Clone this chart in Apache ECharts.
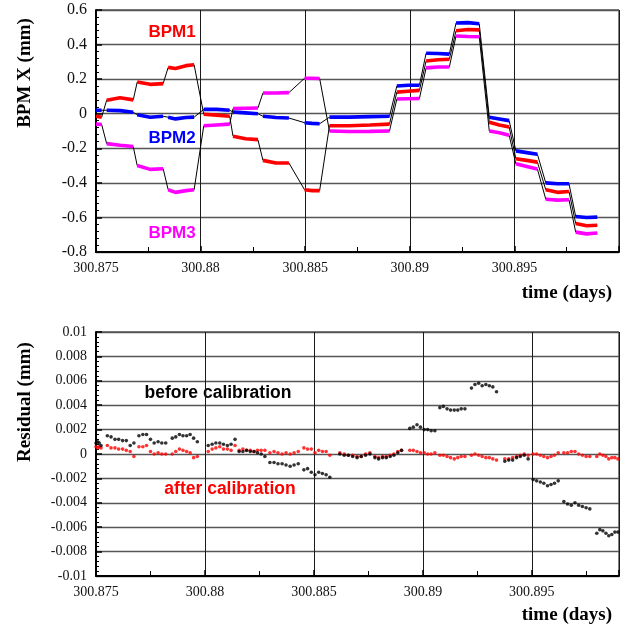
<!DOCTYPE html>
<html><head><meta charset="utf-8">
<script src="https://cdn.jsdelivr.net/npm/echarts@6/dist/echarts.min.js"></script>
<style>html,body{margin:0;padding:0;background:#fff}#c{width:623px;height:627px}</style>
</head><body><div id="c"></div>
<script>
// ---------- Top panel: BPM X (mm) plateaus ----------
const plateauTimes = [
  [300.87500, 300.87527],
  [300.87551, 300.87615, 300.87678],
  [300.87697, 300.87759, 300.87821],
  [300.87845, 300.87880, 300.87930, 300.87969],
  [300.88015, 300.88077, 300.88139],
  [300.88155, 300.88215, 300.88274],
  [300.88298, 300.88360, 300.88422],
  [300.88497, 300.88533, 300.88569],
  [300.88616, 300.88710, 300.88810, 300.88903],
  [300.88938, 300.88992, 300.89046],
  [300.89078, 300.89134, 300.89189],
  [300.89221, 300.89277, 300.89332],
  [300.89380, 300.89428, 300.89475],
  [300.89507, 300.89559, 300.89610],
  [300.89650, 300.89706, 300.89761],
  [300.89793, 300.89845, 300.89896]
];
const bpm1 = [
  [-0.015,-0.02],[0.078,0.092,0.08],[0.183,0.17,0.174],[0.268,0.262,0.278,0.283],
  [-0.003,-0.008,-0.015],[-0.13,-0.145,-0.15],[-0.27,-0.285,-0.285],[-0.44,-0.445,-0.445],
  [-0.07,-0.07,-0.065,-0.06],[0.125,0.13,0.135],[0.305,0.312,0.315],[0.48,0.487,0.485],
  [-0.05,-0.065,-0.077],[-0.26,-0.27,-0.28],[-0.44,-0.455,-0.45],[-0.635,-0.648,-0.645]
];
const bpm2 = [
  [0.02,0.02],[0.02,0.018,0.008],[-0.006,-0.02,-0.015],[-0.02,-0.03,-0.022,-0.02],
  [0.025,0.025,0.02],[0.01,0.005,0.0],[-0.015,-0.022,-0.025],[-0.052,-0.056,-0.058],
  [-0.02,-0.02,-0.017,-0.015],[0.16,0.165,0.165],[0.35,0.348,0.345],[0.525,0.527,0.52],
  [-0.02,-0.03,-0.04],[-0.215,-0.225,-0.235],[-0.4,-0.405,-0.405],[-0.595,-0.6,-0.598]
];
const bpm3 = [
  [-0.06,-0.062],[-0.173,-0.182,-0.19],[-0.3,-0.322,-0.318],[-0.44,-0.455,-0.445,-0.44],
  [-0.07,-0.065,-0.06],[0.03,0.032,0.033],[0.12,0.12,0.122],[0.205,0.205,0.204],
  [-0.1,-0.103,-0.102,-0.1],[0.085,0.087,0.088],[0.265,0.27,0.27],[0.45,0.447,0.445],
  [-0.1,-0.11,-0.125],[-0.29,-0.305,-0.32],[-0.495,-0.5,-0.498],[-0.685,-0.695,-0.69]
];

// ---------- Bottom panel: residuals (mm) ----------
const resTimes = [
  [300.87500,300.87508,300.87515,300.87523],
  [300.87552,300.87569,300.87587,300.87604,300.87622,300.87639,300.87657,300.87674],
  [300.87697,300.87715,300.87732,300.87750,300.87767,300.87785,300.87802,300.87820],
  [300.87850,300.87866,300.87883,300.87899,300.87916,300.87932,300.87948,300.87965],
  [300.88015,300.88033,300.88050,300.88068,300.88085,300.88103,300.88120,300.88138],
  [300.88157,300.88174,300.88191,300.88208,300.88225,300.88241,300.88258,300.88275],
  [300.88298,300.88317,300.88335,300.88354,300.88372,300.88391,300.88409,300.88428],
  [300.88454,300.88471,300.88488,300.88505,300.88522,300.88539,300.88556,300.88573],
  [300.88619,300.88639,300.88658,300.88678,300.88698,300.88717,300.88737,300.88757],
  [300.88780,300.88797,300.88815,300.88832,300.88850,300.88867,300.88885,300.88902],
  [300.88940,300.88956,300.88973,300.88989,300.89006,300.89022,300.89038,300.89055],
  [300.89078,300.89094,300.89111,300.89127,300.89144,300.89160,300.89176,300.89193],
  [300.89223,300.89239,300.89256,300.89272,300.89289,300.89305,300.89321,300.89338],
  [300.89376,300.89394,300.89412,300.89430,300.89447,300.89465,300.89483],
  [300.89506,300.89522,300.89539,300.89555,300.89572,300.89588,300.89604,300.89621],
  [300.89647,300.89664,300.89681,300.89698,300.89715,300.89732,300.89749,300.89766],
  [300.89798,300.89812,300.89826,300.89840,300.89853,300.89867,300.89881,300.89895]
];
const resBefore = [
  [0.0009,0.0010,0.0009,0.0007],
  [0.0015,0.0014,0.0012,0.0012,0.0011,0.0011,0.0007,0.0009],
  [0.0015,0.0016,0.0016,0.0012,0.0009,0.0010,0.0009,0.0009],
  [0.0013,0.0014,0.0016,0.0015,0.0015,0.0016,0.0013,0.0010],
  [0.0007,0.0008,0.0009,0.0009,0.0008,0.0007,0.0008,0.0012],
  [0.0002,0.0002,0.0003,0.0002,0.0002,0.0001,0.0000,-0.0002],
  [-0.0007,-0.0007,-0.0008,-0.0008,-0.0009,-0.0010,-0.0009,-0.0008],
  [-0.0013,-0.0012,-0.0015,-0.0017,-0.0015,-0.0016,-0.0017,-0.0019],
  [0.0000,-0.0001,-0.0001,-0.0002,-0.0003,-0.0002,-0.0001,0.0000],
  [-0.0003,-0.0004,-0.0003,-0.0003,-0.0002,-0.0001,0.0001,0.0003],
  [0.0021,0.0022,0.0024,0.0022,0.0020,0.0020,0.0019,0.0019],
  [0.0038,0.0039,0.0037,0.0036,0.0036,0.0036,0.0037,0.0037],
  [0.0054,0.0057,0.0058,0.0056,0.0057,0.0056,0.0055,0.0051],
  [-0.0006,-0.0005,-0.0005,-0.0003,-0.0002,-0.0001,-0.0004],
  [-0.0021,-0.0022,-0.0023,-0.0024,-0.0026,-0.0025,-0.0024,-0.0022],
  [-0.0039,-0.0041,-0.0042,-0.0040,-0.0042,-0.0043,-0.0044,-0.0045],
  [-0.0065,-0.0062,-0.0063,-0.0065,-0.0067,-0.0066,-0.0064,-0.0064]
];
const resAfter = [
  [0.0006,0.0005,0.0006,0.0005],
  [0.0007,0.0005,0.0005,0.0004,0.0004,0.0003,0.0002,-0.0002],
  [0.0006,0.0006,0.0007,0.0002,0.0000,0.0001,0.0000,0.0000],
  [0.0000,0.0002,0.0004,0.0003,0.0002,0.0001,-0.0003,-0.0002],
  [0.0002,0.0004,0.0005,0.0006,0.0004,0.0004,0.0003,0.0007],
  [0.0003,0.0004,0.0003,0.0003,0.0002,0.0003,0.0003,0.0003],
  [0.0001,0.0002,0.0001,0.0000,0.0001,0.0000,0.0001,0.0002],
  [0.0005,0.0004,0.0004,0.0001,0.0003,0.0002,0.0002,-0.0001],
  [0.0001,0.0000,-0.0001,-0.0001,-0.0002,-0.0002,0.0000,0.0001],
  [-0.0002,-0.0003,-0.0002,-0.0002,-0.0001,0.0000,0.0002,0.0003],
  [0.0003,0.0003,0.0002,0.0001,0.0001,0.0000,0.0000,0.0001],
  [-0.0001,-0.0001,-0.0002,-0.0003,-0.0004,-0.0003,-0.0002,-0.0002],
  [-0.0001,0.0000,-0.0001,-0.0002,-0.0003,-0.0003,-0.0004,-0.0005],
  [-0.0004,-0.0004,-0.0003,-0.0002,-0.0001,0.0000,-0.0001],
  [0.0000,0.0000,-0.0001,-0.0002,-0.0003,-0.0002,-0.0001,0.0001],
  [0.0001,0.0001,0.0002,0.0002,0.0000,-0.0001,-0.0002,-0.0002],
  [-0.0002,0.0000,-0.0001,-0.0002,-0.0004,-0.0003,-0.0003,-0.0004]
];

// ---------- helpers ----------
function allPoints(times, vals) {
  const out = [];
  times.forEach((g, i) => g.forEach((t, j) => out.push([t, vals[i][j]])));
  return out;
}
function plateauPoints(times, vals) {
  const out = [];
  times.forEach((g, i) => {
    g.forEach((t, j) => out.push([t, vals[i][j]]));
    out.push([g[g.length - 1], null]);
  });
  return out;
}

const serif = 'Liberation Serif, Times New Roman, serif';
const sans = 'Liberation Sans, Arial, sans-serif';
const xFmt = v => String(+v.toFixed(3));

function xAxisCfg(gi, max) {
  return {
    gridIndex: gi, type: 'value', min: 300.875, max: max, interval: 0.005,
    axisLine: { show: true, onZero: false, lineStyle: { color: '#000', width: 2 } },
    axisTick: { show: true, inside: true, length: 6, lineStyle: { color: '#000', width: 1.5 } },
    minorTick: { show: true, splitNumber: 2, length: 5, lineStyle: { color: '#000', width: 1 } },
    axisLabel: { formatter: xFmt, fontFamily: serif, fontSize: 14, color: '#111', margin: 9, showMaxLabel: false },
    splitLine: { show: true, lineStyle: { color: '#1a1a1a', width: 1 } }
  };
}
function yAxisCfg(gi, min, max, itv, fs) {
  return {
    gridIndex: gi, type: 'value', min: min, max: max, interval: itv,
    axisLine: { show: true, onZero: false, lineStyle: { color: '#000', width: 2 } },
    axisTick: { show: true, inside: true, length: 6, lineStyle: { color: '#000', width: 1.5 } },
    minorTick: { show: true, splitNumber: 5, length: 3, lineStyle: { color: '#000', width: 1 } },
    axisLabel: { fontFamily: serif, fontSize: fs, color: '#111', margin: 9 },
    splitLine: { show: true, lineStyle: { color: '#555', width: 1.3 } }
  };
}

const chart = echarts.init(document.getElementById('c'));
const blackLine = (data) => ({
  type: 'line', xAxisIndex: 0, yAxisIndex: 0, data, showSymbol: false, symbol: 'none',
  lineStyle: { color: '#000', width: 1 }, z: 2, silent: true
});
const colorLine = (data, color) => ({
  type: 'line', xAxisIndex: 0, yAxisIndex: 0, data, showSymbol: false, symbol: 'none',
  connectNulls: false, lineStyle: { color, width: 3.6 }, z: 3, silent: true
});

chart.setOption({
  animation: false,
  backgroundColor: '#fff',
  grid: [
    { left: 96, right: 4, top: 10, height: 242, show: true, borderColor: '#000', borderWidth: 1 },
    { left: 96, right: 4, top: 332, height: 244, show: true, borderColor: '#000', borderWidth: 1 }
  ],
  xAxis: [xAxisCfg(0, 300.9), xAxisCfg(1, 300.899)],
  yAxis: [yAxisCfg(0, -0.8, 0.6, 0.2, 16), yAxisCfg(1, -0.01, 0.01, 0.002, 14)],
  series: [
    blackLine(allPoints(plateauTimes, bpm1)),
    blackLine(allPoints(plateauTimes, bpm2)),
    blackLine(allPoints(plateauTimes, bpm3)),
    colorLine(plateauPoints(plateauTimes, bpm3), '#ff00ff'),
    colorLine(plateauPoints(plateauTimes, bpm1), '#ff0000'),
    colorLine(plateauPoints(plateauTimes, bpm2), '#0000ff'),
    { type: 'scatter', xAxisIndex: 1, yAxisIndex: 1, data: allPoints(resTimes, resAfter),
      symbolSize: 3.6, itemStyle: { color: '#ff0000' }, z: 3, silent: true },
    { type: 'scatter', xAxisIndex: 1, yAxisIndex: 1, data: allPoints(resTimes, resBefore),
      symbolSize: 3.6, itemStyle: { color: '#000' }, z: 4, silent: true }
  ],
  graphic: [
    { type: 'text', x: 25, y: 73, rotation: Math.PI / 2,
      style: { text: 'BPM X (mm)', font: 'bold 19px ' + serif, fill: '#000', textAlign: 'center', textVerticalAlign: 'middle' } },
    { type: 'text', x: 25, y: 402, rotation: Math.PI / 2,
      style: { text: 'Residual (mm)', font: 'bold 19px ' + serif, fill: '#000', textAlign: 'center', textVerticalAlign: 'middle' } },
    { type: 'text', x: 612, y: 293,
      style: { text: 'time (days)', font: 'bold 19px ' + serif, fill: '#000', textAlign: 'right', textVerticalAlign: 'middle' } },
    { type: 'text', x: 612, y: 615,
      style: { text: 'time (days)', font: 'bold 19px ' + serif, fill: '#000', textAlign: 'right', textVerticalAlign: 'middle' } },
    { type: 'text', x: 172, y: 32,
      style: { text: 'BPM1', font: 'bold 17px ' + sans, fill: '#ff0000', textAlign: 'center', textVerticalAlign: 'middle' } },
    { type: 'text', x: 172, y: 138,
      style: { text: 'BPM2', font: 'bold 17px ' + sans, fill: '#0000ff', textAlign: 'center', textVerticalAlign: 'middle' } },
    { type: 'text', x: 172, y: 233,
      style: { text: 'BPM3', font: 'bold 17px ' + sans, fill: '#ff00ff', textAlign: 'center', textVerticalAlign: 'middle' } },
    { type: 'text', x: 218, y: 393,
      style: { text: 'before calibration', font: 'bold 17.5px ' + sans, fill: '#000', textAlign: 'center', textVerticalAlign: 'middle' } },
    { type: 'text', x: 230, y: 489,
      style: { text: 'after calibration', font: 'bold 17.5px ' + sans, fill: '#ff0000', textAlign: 'center', textVerticalAlign: 'middle' } }
  ]
});
</script>
</body></html>
